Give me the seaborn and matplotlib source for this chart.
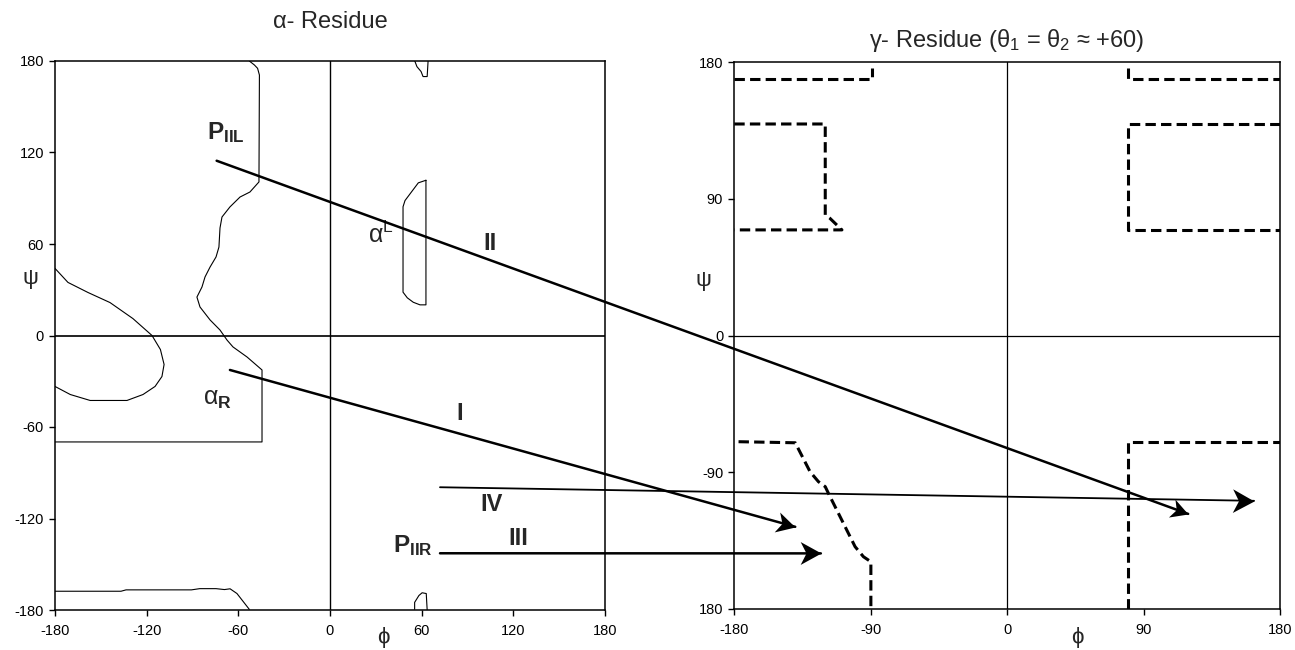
import numpy as np
import matplotlib
matplotlib.use("Agg")
import matplotlib.pyplot as plt
import matplotlib.transforms as mtrans
import seaborn as sns
from matplotlib.patches import ConnectionPatch
from matplotlib.path import Path
from matplotlib.markers import MarkerStyle

# ---------------- data (phi, psi in degrees) ----------------
# alpha-residue allowed-region outlines (left panel)
regA_phi = [-52.8, -49.5, -47.4, -46.2, -46.5, -52.4, -58.9, -65.5, -70.7, -72.0, -72.7, -74.6,
            -78.5, -81.8, -83.8, -87.1, -85.1, -78.5, -72.0, -67.4, -63.5, -54.3, -44.5, -44.5, -180.0]
regA_psi = [180.0, 177.4, 175.2, 170.8, 100.7, 94.1, 90.8, 84.3, 77.7, 70.5, 58.0, 51.5,
            44.9, 38.4, 31.8, 25.2, 18.7, 10.2, 3.6, -3.0, -7.5, -14.1, -22.6, -69.8, -69.8]
regB_phi = [-180.0, -171.5, -158.4, -144.0, -129.0, -116.5, -111.0, -108.6, -110.0, -114.5,
            -122.4, -132.9, -157.0, -170.0, -180.0]
regB_psi = [44.0, 34.8, 28.2, 21.6, 11.1, 0.0, -9.2, -19.0, -26.9, -33.4,
            -38.7, -42.6, -42.6, -38.7, -33.4]
regC_phi = [-180.0, -136.8, -133.5, -90.7, -85.3, -74.6, -69.1, -65.4, -60.9, -52.8]
regC_psi = [-167.7, -167.7, -166.8, -166.8, -166.0, -166.0, -166.6, -166.1, -169.2, -179.6]
regD_phi = [62.8, 57.8, 54.5, 51.2, 49.1, 47.8, 47.8, 50.6, 54.5, 58.9, 62.8, 62.8]
regD_psi = [101.8, 100.1, 95.7, 91.3, 88.5, 84.4, 28.4, 24.7, 21.8, 20.1, 20.1, 101.8]
regE_phi = [55.5, 56.9, 59.6, 60.9, 63.6, 64.2]
regE_psi = [180.0, 176.3, 173.1, 169.8, 169.8, 180.0]
regF_phi = [55.4, 55.4, 58.2, 60.3, 63.0, 63.6]
regF_psi = [-179.6, -175.0, -170.5, -168.7, -169.2, -180.0]

# gamma-residue allowed-region outlines (right panel, dashed)
gA_phi = [-180.0, -89.0, -89.0]
gA_psi = [169.0, 169.0, 176.0]
gB_phi = [80.0, 80.0, 180.0]
gB_psi = [176.0, 169.0, 169.0]
gC_phi = [-180.0, -120.0, -120.0, -117.0, -109.0, -180.0]
gC_psi = [139.2, 139.2, 79.3, 77.2, 69.5, 69.5]
gD_phi = [180.0, 80.0, 80.0, 180.0]
gD_psi = [139.2, 139.2, 69.5, 69.5]
gE_phi = [-177.2, -139.8, -130.0, -124.5, -120.0, -117.9, -100.3, -94.8, -89.9, -89.9]
gE_psi = [-69.9, -70.6, -89.7, -96.2, -99.5, -103.9, -139.0, -145.6, -148.9, -179.6]
gF_phi = [80.0, 80.0, 180.0]
gF_psi = [-180.0, -69.9, -69.9]

# transition arrows: start (left panel) -> end (right panel)
arrow_names = ["II", "I", "IV", "III"]
arrow_start = [(-74.2, 114.6), (-65.5, -22.6), (72.0, -99.5), (72.0, -142.8)]
arrow_end = [(119.4, -117.4), (-139.8, -125.9), (162.9, -108.8), (-122.9, -143.4)]

# tick values / labels
left_ticks = [-180, -120, -60, 0, 60, 120, 180]
left_labels = ["-180", "-120", "-60", "0", "60", "120", "180"]
right_ticks = [-180, -90, 0, 90, 180]
right_xlabels = ["-180", "-90", "0", "90", "180"]
right_ylabels = ["180", "-90", "0", "90", "180"]

# ---------------- styling ----------------
sns.set_theme(style="ticks")
plt.rcParams["font.family"] = ["Liberation Sans", "DejaVu Sans"]
plt.rcParams.update({
    "mathtext.fontset": "custom",
    "mathtext.rm": "Liberation Sans",
    "mathtext.bf": "Liberation Sans:bold",
    "mathtext.it": "Liberation Sans:italic",
    "mathtext.sf": "Liberation Sans",
    "axes.unicode_minus": False,
    "axes.edgecolor": "black",
    "axes.linewidth": 1.1,
    "xtick.color": "black",
    "ytick.color": "black",
    "xtick.direction": "out",
    "ytick.direction": "out",
    "xtick.major.size": 4,
    "ytick.major.size": 4,
    "xtick.major.width": 1.0,
    "ytick.major.width": 1.0,
    "xtick.labelsize": 10.5,
    "ytick.labelsize": 10.5,
})

fig = plt.figure(figsize=(12.95, 6.5), dpi=100)
axL = fig.add_axes([55 / 1295, 1 - 610 / 650, 550 / 1295, 549 / 650])
axR = fig.add_axes([734.3 / 1295, 1 - 609 / 650, 545.7 / 1295, 547 / 650])

for ax in (axL, axR):
    ax.set_xlim(-180, 180)
    ax.set_ylim(-180, 180)
    ax.set_facecolor("white")
    ax.grid(False)
    for s in ax.spines.values():
        s.set_visible(True)
        s.set_color("black")

axL.axhline(0, color="#222222", lw=1.4, zorder=1)
axL.axvline(0, color="black", lw=1.0, zorder=1)
axR.axhline(0, color="black", lw=0.9, zorder=1)
axR.axvline(0, color="black", lw=0.9, zorder=1)

left_regions = [(regA_phi, regA_psi), (regB_phi, regB_psi), (regC_phi, regC_psi),
                (regD_phi, regD_psi), (regE_phi, regE_psi), (regF_phi, regF_psi)]
for px, py in left_regions:
    sns.lineplot(x=np.array(px), y=np.array(py), sort=False, estimator=None,
                 ax=axL, color="black", lw=0.8)

right_regions = [(gA_phi, gA_psi), (gB_phi, gB_psi), (gC_phi, gC_psi),
                 (gD_phi, gD_psi), (gE_phi, gE_psi), (gF_phi, gF_psi)]
for px, py in right_regions:
    sns.lineplot(x=np.array(px), y=np.array(py), sort=False, estimator=None,
                 ax=axR, color="black", lw=2.2, linestyle=(0, (3.4, 1.7)))

axL.set_xticks(left_ticks)
axL.set_xticklabels(left_labels)
axL.set_yticks(left_ticks)
axL.set_yticklabels(left_labels)
axR.set_xticks(right_ticks)
axR.set_xticklabels(right_xlabels)
axR.set_yticks(right_ticks)
axR.set_yticklabels(right_ylabels)
for ax in (axL, axR):
    ax.set_xlabel("")
    ax.set_ylabel("")
    ax.tick_params(axis="x", pad=6)
    ax.tick_params(axis="y", pad=4)

# titles
axL.text(0.5, 1.071, "α- Residue", transform=axL.transAxes, ha="center", va="center", fontsize=17)
axR.text(0.5, 1.040, r"γ- Residue (θ$_1$ = θ$_2$ ≈ +60)", transform=axR.transAxes,
         ha="center", va="center", fontsize=17)

# axis symbols
for ax, xa, yv in ((axL, -0.045, 37.7), (axR, -0.057, 36.5)):
    tr = mtrans.blended_transform_factory(ax.transAxes, ax.transData)
    ax.text(xa, yv, "ψ", transform=tr, ha="center", va="center", fontsize=16)
for ax, xv in ((axL, 35.0), (axR, 46.0)):
    tr = mtrans.blended_transform_factory(ax.transData, fig.transFigure)
    ax.text(xv, 1 - 637 / 650, "ϕ", transform=tr, ha="center", va="center", fontsize=16)

# region labels (left panel)
axL.text(-80.5, 128.9, r"$\mathbf{P}_{\mathbf{IIL}}$", ha="left", va="baseline", fontsize=17.5)
axL.text(41.2, -142.0, r"$\mathbf{P}_{\mathbf{IIR}}$", ha="left", va="baseline", fontsize=17.5)
axL.text(-83.1, -45.6, r"α$_{\mathbf{R}}$", ha="left", va="baseline", fontsize=18)
axL.text(24.9, 60.7, r"α$^{\mathrm{L}}$", ha="left", va="baseline", fontsize=18)
label_pos = {"II": (104.7, 60.0), "I": (85.1, -51.0), "IV": (105.7, -110.5), "III": (123.4, -133.1)}
for name in arrow_names:
    x0, y0 = label_pos[name]
    axL.text(x0, y0, name, ha="center", va="center", fontsize=17, fontweight="bold")

# arrows across the two panels (line + notched "stealth" head)
stealth = Path([(0, 0), (-1, 0.55), (-0.72, 0), (-1, -0.55), (0, 0)],
               [Path.MOVETO, Path.LINETO, Path.LINETO, Path.LINETO, Path.CLOSEPOLY])
arrow_lw = [1.8, 1.8, 1.3, 1.8]
head_ms = [25, 27, 31, 30]
for s, e, lw, ms in zip(arrow_start, arrow_end, arrow_lw, head_ms):
    con = ConnectionPatch(xyA=s, xyB=e, coordsA=axL.transData, coordsB=axR.transData,
                          arrowstyle="-", shrinkA=0, shrinkB=0, lw=lw, color="black", zorder=5)
    fig.add_artist(con)
    p0 = axL.transData.transform(s)
    p1 = axR.transData.transform(e)
    ang = np.degrees(np.arctan2(p1[1] - p0[1], p1[0] - p0[0]))
    mk = MarkerStyle(stealth, transform=mtrans.Affine2D().rotate_deg(ang))
    axR.plot([e[0]], [e[1]], marker=mk, markersize=ms, color="black", mew=0,
             linestyle="none", clip_on=False, zorder=6)

fig.savefig("out.png", dpi=100, facecolor="white")
